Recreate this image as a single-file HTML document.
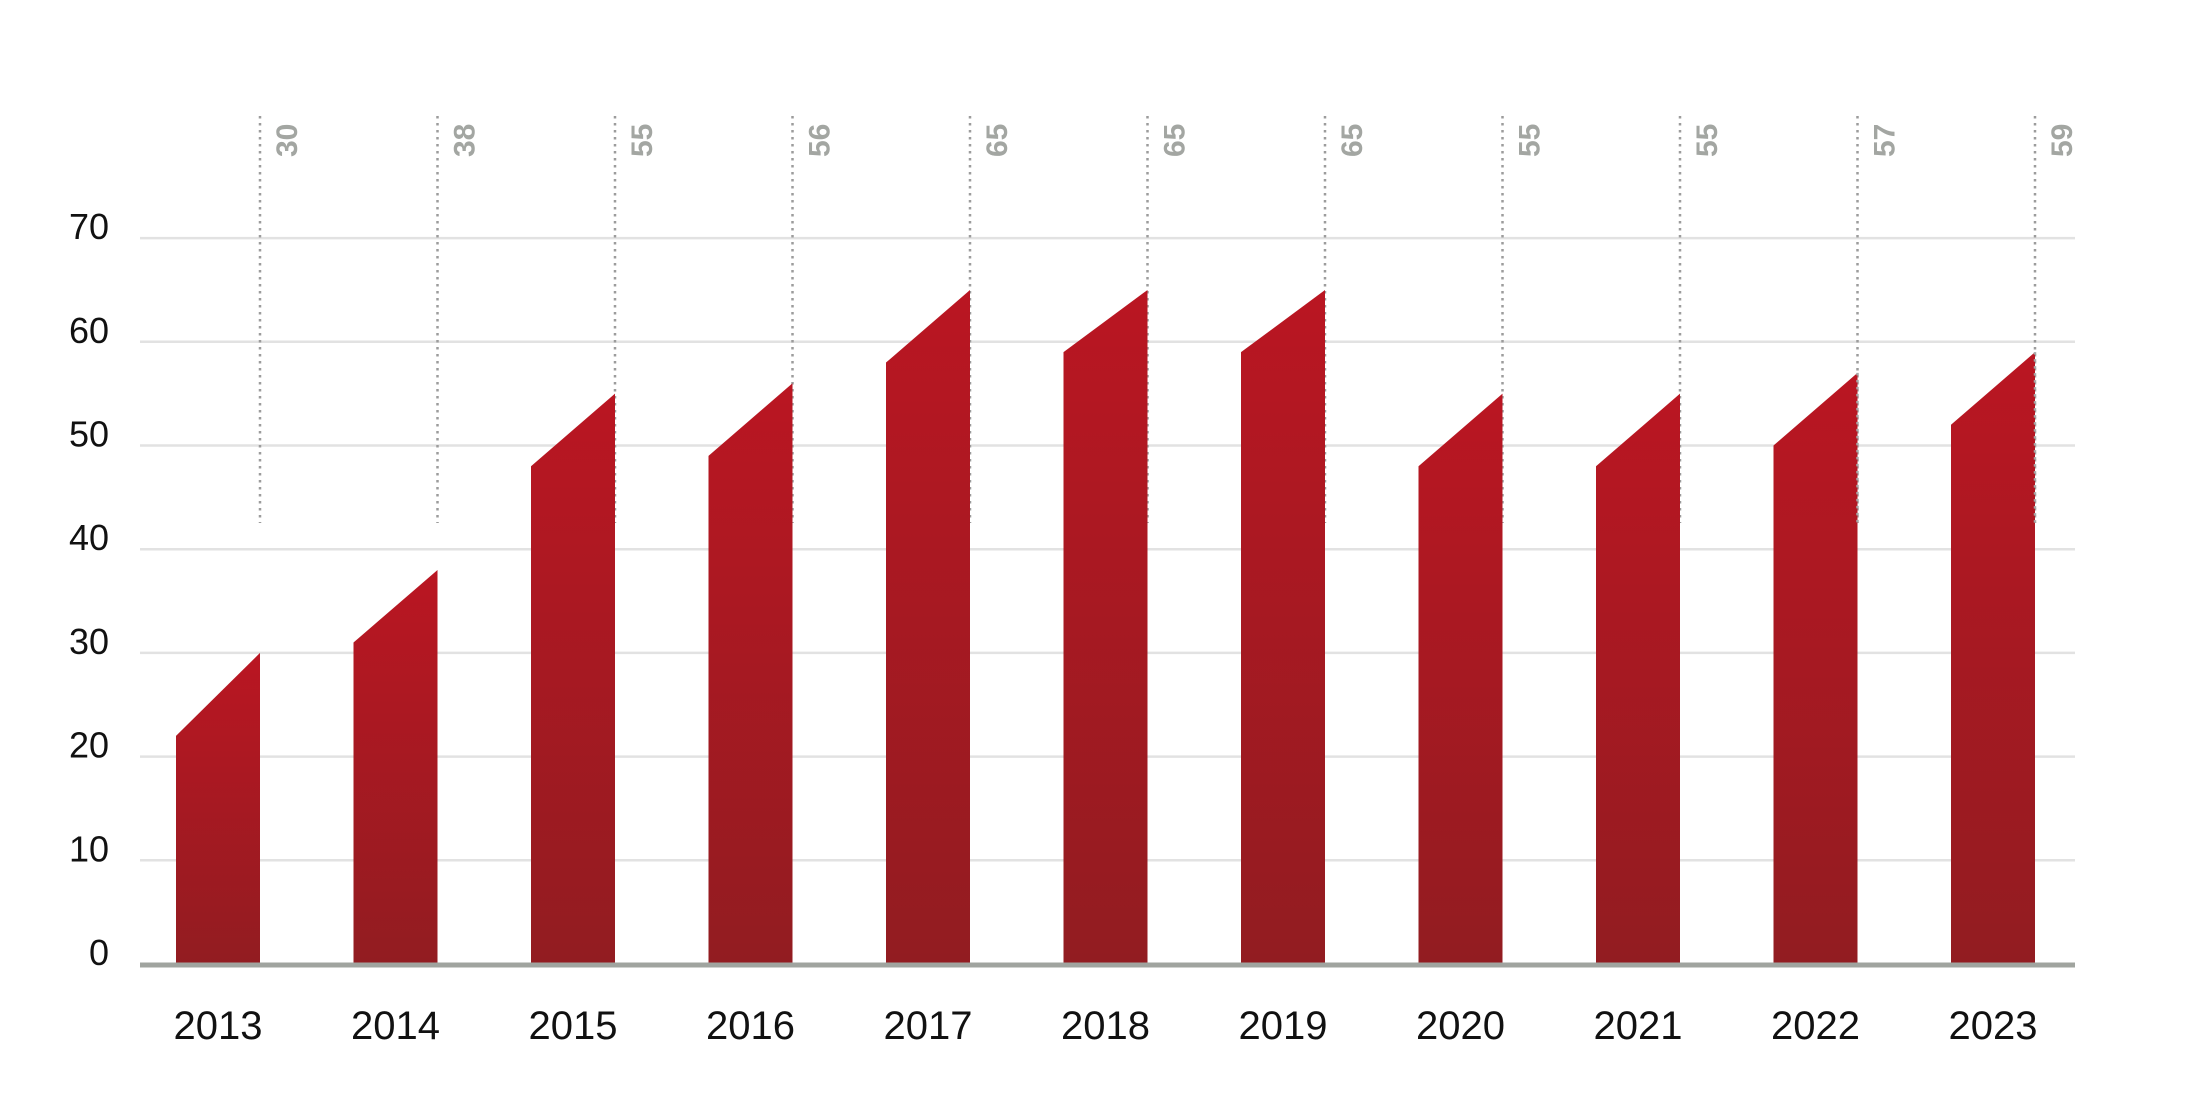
<!DOCTYPE html>
<html><head><meta charset="utf-8"><style>
body{margin:0;background:#fff;}
svg{display:block;font-family:"Liberation Sans",sans-serif;}
</style></head><body>
<svg id="chart" width="2188" height="1117" viewBox="0 0 2188 1117" xmlns="http://www.w3.org/2000/svg">
<defs>
<linearGradient id="barGrad" x1="0" y1="0" x2="0" y2="1">
<stop offset="0" stop-color="#ba1622"/>
<stop offset="1" stop-color="#921c21"/>
</linearGradient>
</defs>
<g id="grid"></g>
<g id="dots"></g>
<g id="bars"></g>
<g id="dots2"></g>
<g id="labels"></g>
</svg>
<script>
const years = ["2013","2014","2015","2016","2017","2018","2019","2020","2021","2022","2023"];
const values = [30,38,55,56,65,65,65,55,55,57,59];
const startValues = [22,31,48,49,58,59,59,48,48,50,52];
const yTicks = [0,10,20,30,40,50,60,70];

const NS = "http://www.w3.org/2000/svg";
const x0 = 140, x1 = 2075;
const zeroY = 964, perUnit = 10.37;
function y(v){ return zeroY - v*perUnit; }
const firstRight = 260, step = 177.5, barW = 84;
function xRight(i){ return firstRight + i*step; }
function mk(tag, attrs, parent){
  const e = document.createElementNS(NS, tag);
  for (const k in attrs) e.setAttribute(k, attrs[k]);
  parent.appendChild(e);
  return e;
}
const grid = document.getElementById('grid');
const dots = document.getElementById('dots');
const dots2 = document.getElementById('dots2');
const bars = document.getElementById('bars');
const labels = document.getElementById('labels');

yTicks.forEach(t => {
  if (t > 0) {
    const l = mk('line', {x1:x0, x2:x1, y1:y(t), y2:y(t), stroke:'#e2e2e2', 'stroke-width':2.5}, grid);
    
    
  }
  const tx = mk('text', {x:109, y:y(t)+1, 'text-anchor':'end', 'font-size':36, fill:'#111'}, labels);
  tx.textContent = t;
  
  
});

years.forEach((yr, i) => {
  const xr = xRight(i), xl = xr - barW;
  const lowY = Math.min(y(values[i]), 523);
  const d = mk('line', {x1:xr, x2:xr, y1:116, y2:523, stroke:'#9c9c9c', 'stroke-width':2.5, 'stroke-dasharray':'2.5 4.5'}, dots);
  
  
  if (i >= years.length - 2) {
    const d2 = mk('line', {x1:xr, x2:xr, y1:y(values[i]), y2:523, stroke:'#a8a8a8', 'stroke-width':2.5, 'stroke-dasharray':'2.5 4.5'}, dots2);
    
    
  }
  const p = mk('polygon', {points: `${xl},${zeroY} ${xl},${y(startValues[i])} ${xr},${y(values[i])} ${xr},${zeroY}`, fill:'url(#barGrad)'}, bars);
  
  
  const vx = xr + 37, vy = 157;
  const vt = mk('text', {x:vx, y:vy, transform:`rotate(-90 ${vx} ${vy})`, 'font-size':30, 'font-weight':'bold', fill:'#a3a6a2'}, labels);
  vt.textContent = values[i];
  
  
  const xt = mk('text', {x:xr - barW/2, y:1039, 'text-anchor':'middle', 'font-size':40, fill:'#111'}, labels);
  xt.textContent = yr;
  
  
});
const axis = mk('line', {x1:x0, x2:x1, y1:zeroY+1, y2:zeroY+1, stroke:'#a0a49f', 'stroke-width':5}, labels);


</script>
</body></html>
